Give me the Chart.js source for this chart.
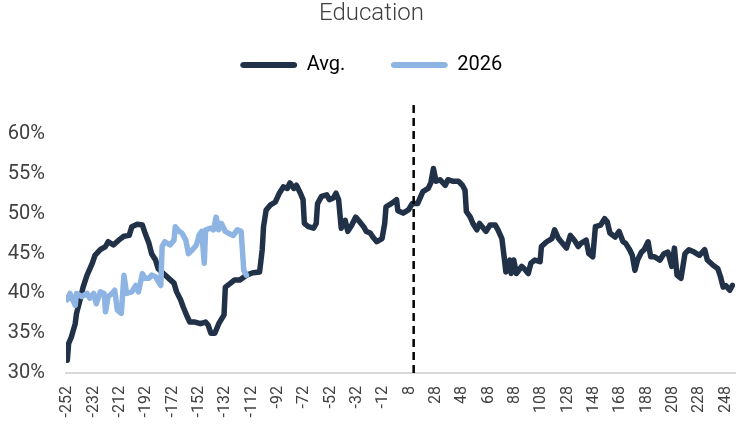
<!DOCTYPE html>
<html>
<head>
<meta charset="utf-8">
<script src="https://cdn.jsdelivr.net/npm/chart.js@4.4.1/dist/chart.umd.min.js"></script>
<style>
  html, body { margin: 0; padding: 0; background: #fff; }
  #wrap { width: 738px; height: 426px; }
</style>
</head>
<body>
<div id="wrap"><canvas id="eduCanvas"></canvas></div>
<script>
// day offsets and share values
var avgX = [
  -252, -251, -249, -246, -245, -242, -240, -237, -233, -231,
  -227, -223, -221, -217, -213, -209, -205, -203, -199, -195,
  -193, -190, -188, -185, -183, -179, -175, -171, -169, -166,
  -164, -161, -159, -155, -151, -147, -145, -143, -140, -137,
  -133, -132, -128, -125, -121, -116, -111, -106, -104, -103,
  -101, -98, -94, -91, -88, -85, -83, -80, -78, -75,
  -73, -72, -69, -65, -63, -62, -59, -55, -53, -50,
  -48, -46, -44, -41, -39, -36, -33, -30, -27, -25,
  -22, -20, -17, -13, -11, -10, -6, -2, -1, 3,
  7, 10, 14, 18, 22, 24, 26, 28, 31, 35,
  37, 41, 45, 48, 50, 51, 54, 56, 59, 61,
  64, 66, 69, 73, 75, 78, 80, 81, 84, 85,
  87, 89, 93, 95, 98, 100, 103, 107, 108, 112,
  116, 118, 121, 124, 127, 130, 133, 136, 138, 142,
  144, 147, 149, 153, 156, 158, 160, 164, 167, 170,
  172, 175, 177, 179, 181, 184, 186, 189, 191, 194,
  198, 201, 204, 207, 209, 211, 214, 217, 220, 224,
  228, 232, 234, 238, 242, 244, 246, 248, 251, 253
];
var avgY = [
  31.6, 33.7, 34.5, 36.2, 37.5, 39.4, 40.8, 42.3, 43.8, 44.8,
  45.5, 45.9, 46.5, 46.1, 46.7, 47.2, 47.3, 48.4, 48.7, 48.6,
  47.6, 46.3, 45.0, 44.2, 43.1, 42.5, 41.9, 41.3, 40.2, 39.2,
  38.3, 37.1, 36.4, 36.4, 36.2, 36.4, 36.0, 35.0, 35.0, 36.2,
  37.3, 40.8, 41.3, 41.7, 41.7, 42.3, 42.6, 42.7, 45.5, 48.4,
  50.5, 51.1, 51.5, 52.6, 53.4, 53.2, 53.9, 53.2, 53.6, 52.6,
  51.8, 48.8, 48.4, 48.2, 48.8, 51.3, 52.2, 52.4, 51.8, 52.0,
  52.6, 51.8, 48.2, 49.2, 47.8, 48.6, 49.6, 49.0, 48.4, 47.8,
  47.6, 47.1, 46.5, 46.9, 48.8, 50.9, 51.3, 51.8, 50.4, 50.1,
  50.5, 51.3, 51.3, 52.8, 53.2, 53.9, 55.7, 54.1, 54.3, 53.6,
  54.3, 54.1, 54.1, 53.6, 53.0, 50.3, 49.6, 48.8, 48.0, 48.8,
  48.2, 47.8, 48.6, 48.6, 48.0, 46.9, 44.2, 42.7, 44.2, 42.5,
  44.2, 42.5, 43.4, 43.1, 42.5, 43.8, 44.2, 44.0, 45.9, 46.5,
  46.9, 48.0, 46.9, 46.3, 45.7, 47.3, 46.7, 45.9, 46.3, 46.7,
  45.0, 44.6, 48.4, 48.6, 49.4, 49.0, 47.6, 47.1, 47.8, 46.5,
  46.3, 45.5, 44.8, 42.9, 44.2, 45.2, 45.5, 46.5, 44.6, 44.6,
  44.2, 45.0, 45.2, 43.4, 45.7, 42.3, 41.9, 45.0, 45.5, 45.2,
  44.8, 45.5, 44.2, 43.6, 43.1, 42.1, 40.8, 41.0, 40.4, 41.0
];
var y2026X = [
  -252, -250, -246, -245, -241, -237, -235, -232, -230, -227,
  -224, -223, -221, -218, -216, -214, -211, -209, -207, -203,
  -200, -198, -195, -193, -190, -188, -185, -181, -180, -178,
  -174, -171, -170, -167, -165, -162, -160, -157, -154, -152,
  -150, -148, -147, -143, -141, -139, -137, -135, -132, -130,
  -126, -123, -120, -118, -116
];
var y2026Y = [
  39.2, 40.0, 38.5, 40.0, 39.6, 40.0, 39.4, 40.0, 38.7, 40.2,
  40.0, 37.7, 39.6, 40.0, 40.4, 37.9, 37.5, 42.3, 40.0, 40.2,
  41.0, 40.2, 42.5, 41.9, 41.9, 42.3, 42.1, 41.0, 45.9, 46.5,
  46.1, 46.7, 48.4, 47.8, 47.6, 46.7, 45.0, 45.5, 46.1, 47.3,
  47.8, 43.8, 48.0, 48.2, 48.0, 49.6, 48.0, 48.8, 47.8, 47.6,
  47.3, 48.0, 47.8, 42.9, 42.3
];
var xTicks = [-252, -232, -212, -192, -172, -152, -132, -112, -92, -72, -52, -32, -12,
  8, 28, 48, 68, 88, 108, 128, 148, 168, 188, 208, 228, 248];
var yTicks = [30, 35, 40, 45, 50, 55, 60];
var markerX = 11;           // the dashed "today" line
var markerY = [30, 64.2];

var navy = '#203148';
var lightBlue = '#8EB4E3';
var textColor = '#404040';
var fontFamily = 'Roboto, "Noto Sans", sans-serif';

function toPoints(xs, ys) {
  return xs.map(function (x, i) { return { x: x, y: ys[i] }; });
}

// push the plot area a bit further below the legend
var legendGap = {
  id: 'legendGap',
  beforeInit: function (chart) {
    var fit = chart.legend.fit;
    chart.legend.fit = function () {
      fit.bind(chart.legend)();
      this.height += 9.6;
    };
  }
};

var ctx = document.getElementById('eduCanvas').getContext('2d');
var eduChart = new Chart(ctx, {
  type: 'line',
  data: {
    datasets: [{
      label: 'Avg.',
      data: toPoints(avgX, avgY),
      borderColor: navy,
      backgroundColor: navy,
      borderWidth: 5.5,
      pointRadius: 0,
      tension: 0,
      borderJoinStyle: 'round',
      borderCapStyle: 'round',
      order: 3
    }, {
      label: '2026',
      data: toPoints(y2026X, y2026Y),
      borderColor: lightBlue,
      backgroundColor: lightBlue,
      borderWidth: 5.5,
      pointRadius: 0,
      tension: 0,
      borderJoinStyle: 'round',
      borderCapStyle: 'round',
      order: 2
    }, {
      label: 'marker',
      data: [{ x: markerX, y: markerY[0] }, { x: markerX, y: markerY[1] }],
      borderColor: '#000000',
      borderWidth: 2.5,
      borderDash: [8, 5],
      pointRadius: 0,
      clip: false,
      order: 1
    }]
  },
  options: {
    responsive: true,
    maintainAspectRatio: false,
    animation: false,
    devicePixelRatio: 1,
    layout: { padding: { left: 8, right: 3, top: 0, bottom: 8 } },
    scales: {
      x: {
        type: 'linear',
        min: -253,
        max: 255,
        afterBuildTicks: function (scale) {
          scale.ticks = xTicks.map(function (v) { return { value: v }; });
        },
        afterFit: function (scale) {
          scale.height = 45;
          scale.paddingLeft = 0;
          scale.paddingRight = 0;
        },
        grid: { display: false, drawTicks: false },
        border: { display: true, color: '#d9d9d9', width: 2 },
        ticks: {
          autoSkip: false,
          minRotation: 90,
          maxRotation: 90,
          padding: 13,
          color: textColor,
          font: { family: fontFamily, size: 16 }
        }
      },
      y: {
        min: 30,
        max: 65,
        afterBuildTicks: function (scale) {
          scale.ticks = yTicks.map(function (v) { return { value: v }; });
        },
        afterFit: function (scale) {
          scale.width = 58;
          scale.paddingTop = 0;
          scale.paddingBottom = 0;
        },
        grid: { display: false, drawTicks: false },
        border: { display: false },
        ticks: {
          padding: 21,
          color: textColor,
          font: { family: fontFamily, size: 20 },
          callback: function (v) { return v + '%'; }
        }
      }
    },
    plugins: {
      title: {
        display: true,
        text: 'Education',
        color: textColor,
        font: { family: fontFamily, size: 24, weight: '300' },
        padding: { top: 0, bottom: -19.8 }
      },
      legend: {
        labels: {
          boxWidth: 56,
          boxHeight: 5,
          padding: 46,
          color: textColor,
          font: { family: fontFamily, size: 20 },
          useBorderRadius: true,
          borderRadius: 2.5,
          generateLabels: function (chart) {
            return chart.data.datasets.slice(0, 2).map(function (ds, i) {
              return {
                text: ds.label,
                fillStyle: ds.borderColor,
                strokeStyle: ds.borderColor,
                lineWidth: 1,
                borderRadius: 2.5,
                datasetIndex: i,
                hidden: false
              };
            });
          }
        }
      },
      tooltip: { enabled: false }
    }
  },
  plugins: [legendGap]
});
</script>
</body>
</html>
